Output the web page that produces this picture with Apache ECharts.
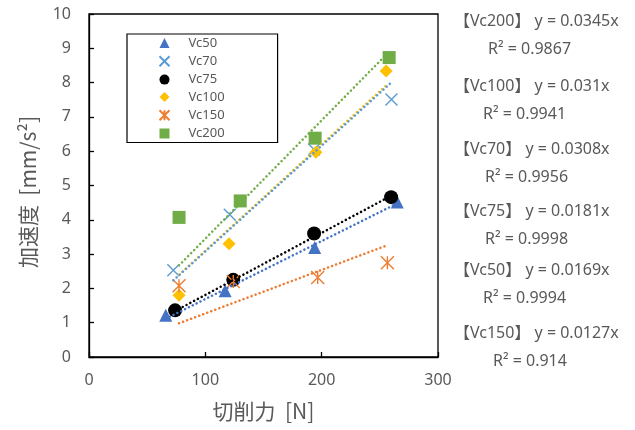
<!DOCTYPE html>
<html>
<head>
<meta charset="utf-8">
<script src="https://cdn.jsdelivr.net/npm/echarts@6/dist/echarts.min.js"></script>
<style>
  html, body { margin: 0; padding: 0; background: #fff; }
  #chart { width: 635px; height: 430px; }
</style>
</head>
<body>
<div id="chart"></div>
<script>
// Cutting force [N] vs acceleration [mm/s²] for each cutting speed
const seriesNames = ['Vc50', 'Vc70', 'Vc75', 'Vc100', 'Vc150', 'Vc200'];

const forceVc50  = [66, 117, 194, 265];
const accelVc50  = [1.22, 1.93, 3.19, 4.52];
const forceVc70  = [72.5, 121, 193.5, 260];
const accelVc70  = [2.53, 4.15, 6.05, 7.51];
const forceVc75  = [74, 124, 193.5, 259.7];
const accelVc75  = [1.36, 2.25, 3.6, 4.66];
const forceVc100 = [77.4, 120.4, 195, 255.4];
const accelVc100 = [1.8, 3.3, 5.97, 8.34];
const forceVc150 = [77.4, 124, 196.6, 256.5];
const accelVc150 = [2.08, 2.2, 2.32, 2.75];
const forceVc200 = [77.4, 130, 194.4, 258];
const accelVc200 = [4.07, 4.55, 6.38, 8.73];

// Linear fits through the origin (slope, R²), listed in annotation order
const fitNames  = ['Vc200', 'Vc100', 'Vc70', 'Vc75', 'Vc50', 'Vc150'];
const fitSlopes = ['0.0345', '0.031', '0.0308', '0.0181', '0.0169', '0.0127'];
const fitR2     = ['0.9867', '0.9941', '0.9956', '0.9998', '0.9994', '0.914'];

const xTicks = [0, 100, 200, 300];
const yTicks = [0, 1, 2, 3, 4, 5, 6, 7, 8, 9, 10];

const forces = { Vc50: forceVc50, Vc70: forceVc70, Vc75: forceVc75, Vc100: forceVc100, Vc150: forceVc150, Vc200: forceVc200 };
const accels = { Vc50: accelVc50, Vc70: accelVc70, Vc75: accelVc75, Vc100: accelVc100, Vc150: accelVc150, Vc200: accelVc200 };

const colors = { Vc50: '#4472C4', Vc70: '#5B9BD5', Vc75: '#000000', Vc100: '#FFC000', Vc150: '#ED7D31', Vc200: '#70AD47' };
const symbols = {
  Vc50: 'triangle',
  Vc70: 'path://M0 0L10 10M10 0L0 10',
  Vc75: 'circle',
  Vc100: 'diamond',
  Vc150: 'path://M0 0L10 10M10 0L0 10M5 0L5 10',
  Vc200: 'rect'
};
const sizes = { Vc50: 13, Vc70: 12, Vc75: 14, Vc100: 13, Vc150: 13, Vc200: 13 };
const stroked = { Vc70: true, Vc150: true };

const textColor = '#595959';
const numFont = '"Noto Sans", "Open Sans", sans-serif';
const cjkFont = '"Noto Sans CJK JP", "Noto Sans", sans-serif';
const eqFont = '"Noto Sans", "Noto Sans CJK JP", sans-serif';

const series = [];

// markers
seriesNames.forEach(n => {
  const style = stroked[n]
    ? { color: 'none', borderColor: colors[n], borderWidth: 1.4, opacity: 1 }
    : { color: colors[n], opacity: 1 };
  series.push({
    name: n,
    type: 'scatter',
    symbol: symbols[n],
    symbolSize: sizes[n],
    itemStyle: style,
    data: forces[n].map((f, i) => [f, accels[n][i]]),
    z: 3
  });
});

// dotted trendlines y = a·x across each series' force range
fitNames.forEach((n, k) => {
  const a = parseFloat(fitSlopes[k]);
  const xs = forces[n];
  const x0 = Math.min(...xs), x1 = Math.max(...xs);
  series.push({
    name: n + ' fit',
    type: 'line',
    data: [[x0, a * x0], [x1, a * x1]],
    symbol: 'none',
    lineStyle: { color: colors[n], width: 2.5, type: [0.1, 4.2], cap: 'round' },
    silent: true,
    z: 4
  });
});

// fit equations on the right
const graphics = [];
const eqY  = [21, 86, 149, 211.5, 270, 333.5];
const r2X  = [488, 483, 485, 485, 483, 493];
fitNames.forEach((n, k) => {
  graphics.push({
    type: 'text', x: 454, y: eqY[k],
    style: { text: '【' + n + '】 y = ' + fitSlopes[k] + 'x', font: '16px ' + eqFont, fill: textColor, verticalAlign: 'middle' }
  });
  graphics.push({
    type: 'text', x: r2X[k], y: eqY[k] + 28,
    style: { text: 'R² = ' + fitR2[k], font: '16px ' + eqFont, fill: textColor, verticalAlign: 'middle' }
  });
});

// vertical axis title
graphics.push({
  type: 'text', x: 28, y: 192, rotation: Math.PI / 2,
  style: { text: '加速度  [mm/s²]', font: '21px ' + cjkFont, fill: textColor, align: 'center', verticalAlign: 'middle' }
});

const chart = echarts.init(document.getElementById('chart'));
chart.setOption({
  animation: false,
  backgroundColor: '#fff',
  grid: { left: 89, right: 197, top: 14, bottom: 73, show: true, borderColor: '#000', borderWidth: 1.3 },
  legend: {
    data: seriesNames,
    orient: 'vertical',
    left: 127, top: 34,
    padding: [2.5, 53, 2.5, 30],
    itemGap: 4.3,
    itemWidth: 10, itemHeight: 10,
    borderColor: '#000', borderWidth: 1.2,
    backgroundColor: '#fff',
    textStyle: { color: textColor, fontSize: 13, fontFamily: numFont, lineHeight: 13, padding: [0, 0, 0, 14] }
  },
  xAxis: {
    type: 'value', min: 0, max: 300, interval: 100,
    name: '切削力  [N]', nameLocation: 'middle', nameGap: 44,
    nameTextStyle: { color: textColor, fontSize: 21, fontFamily: cjkFont },
    axisLine: { lineStyle: { color: '#000', width: 1.3 } },
    axisTick: { inside: true, length: 5, lineStyle: { color: '#000', width: 1.3 } },
    axisLabel: { color: textColor, fontSize: 16, fontFamily: numFont, margin: 15,
      formatter: v => xTicks.includes(v) ? String(v) : '' },
    splitLine: { show: false }
  },
  yAxis: {
    type: 'value', min: 0, max: 10, interval: 1,
    axisLine: { lineStyle: { color: '#000', width: 1.3 } },
    axisTick: { inside: true, length: 5, lineStyle: { color: '#000', width: 1.3 } },
    axisLabel: { color: textColor, fontSize: 16, fontFamily: numFont, margin: 18,
      formatter: v => yTicks.includes(v) ? String(v) : '' },
    splitLine: { show: false }
  },
  graphic: graphics,
  series: series
});
</script>
</body>
</html>
